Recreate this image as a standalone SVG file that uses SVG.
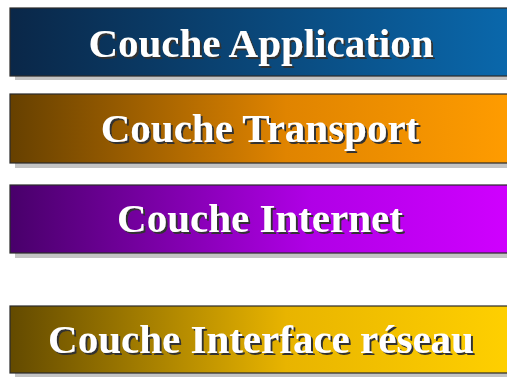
<svg xmlns="http://www.w3.org/2000/svg" width="507" height="377" viewBox="0 0 507 377">
  <style>
    .shadow { fill: #c4c4c4; }
    .bar { stroke: #2a2a2a; stroke-width: 1.2; }
    .label { font-family: "Liberation Serif", "Times New Roman", serif; font-weight: bold; font-size: 41px; text-anchor: middle; fill: #ffffff; filter: url(#textShade); }
  </style>
  <defs>
    <!-- dark offset shade behind the white lettering -->
    <filter id="textShade" x="-5%" y="-20%" width="110%" height="150%">
      <feDropShadow dx="2" dy="2" stdDeviation="0.4" flood-color="#303030" flood-opacity="1"/>
    </filter>
    <linearGradient id="gApp" x1="0" y1="0" x2="1" y2="0">
      <stop offset="0" stop-color="#0a2748"/>
      <stop offset="1" stop-color="#0a68ac"/>
    </linearGradient>
    <linearGradient id="gTransport" x1="0" y1="0" x2="1" y2="0">
      <stop offset="0" stop-color="#664000"/>
      <stop offset="0.55" stop-color="#e08400"/>
      <stop offset="1" stop-color="#ff9c00"/>
    </linearGradient>
    <linearGradient id="gInternet" x1="0" y1="0" x2="1" y2="0">
      <stop offset="0" stop-color="#48006a"/>
      <stop offset="0.6" stop-color="#b000e6"/>
      <stop offset="1" stop-color="#d000ff"/>
    </linearGradient>
    <linearGradient id="gInterface" x1="0" y1="0" x2="1" y2="0">
      <stop offset="0" stop-color="#634a00"/>
      <stop offset="0.55" stop-color="#e8b400"/>
      <stop offset="1" stop-color="#ffd000"/>
    </linearGradient>
  </defs>

  <rect width="507" height="377" fill="#ffffff"/>

  <g id="couche-application">
    <rect class="shadow" x="15" y="12" width="500" height="68"/>
    <rect class="bar" x="10" y="8" width="502" height="68" fill="url(#gApp)"/>
    <text class="label" x="261" y="57">Couche Application</text>
  </g>

  <g id="couche-transport">
    <rect class="shadow" x="15" y="98" width="500" height="70"/>
    <rect class="bar" x="10" y="94" width="502" height="69" fill="url(#gTransport)"/>
    <text class="label" x="260" y="142">Couche Transport</text>
  </g>

  <g id="couche-internet">
    <rect class="shadow" x="15" y="189" width="500" height="69"/>
    <rect class="bar" x="10" y="185" width="502" height="68" fill="url(#gInternet)"/>
    <text class="label" x="260" y="232">Couche Internet</text>
  </g>

  <g id="couche-interface-reseau">
    <rect class="shadow" x="15" y="310" width="500" height="67"/>
    <rect class="bar" x="10" y="306" width="502" height="67" fill="url(#gInterface)"/>
    <text class="label" x="261" y="353">Couche Interface réseau</text>
  </g>
</svg>
